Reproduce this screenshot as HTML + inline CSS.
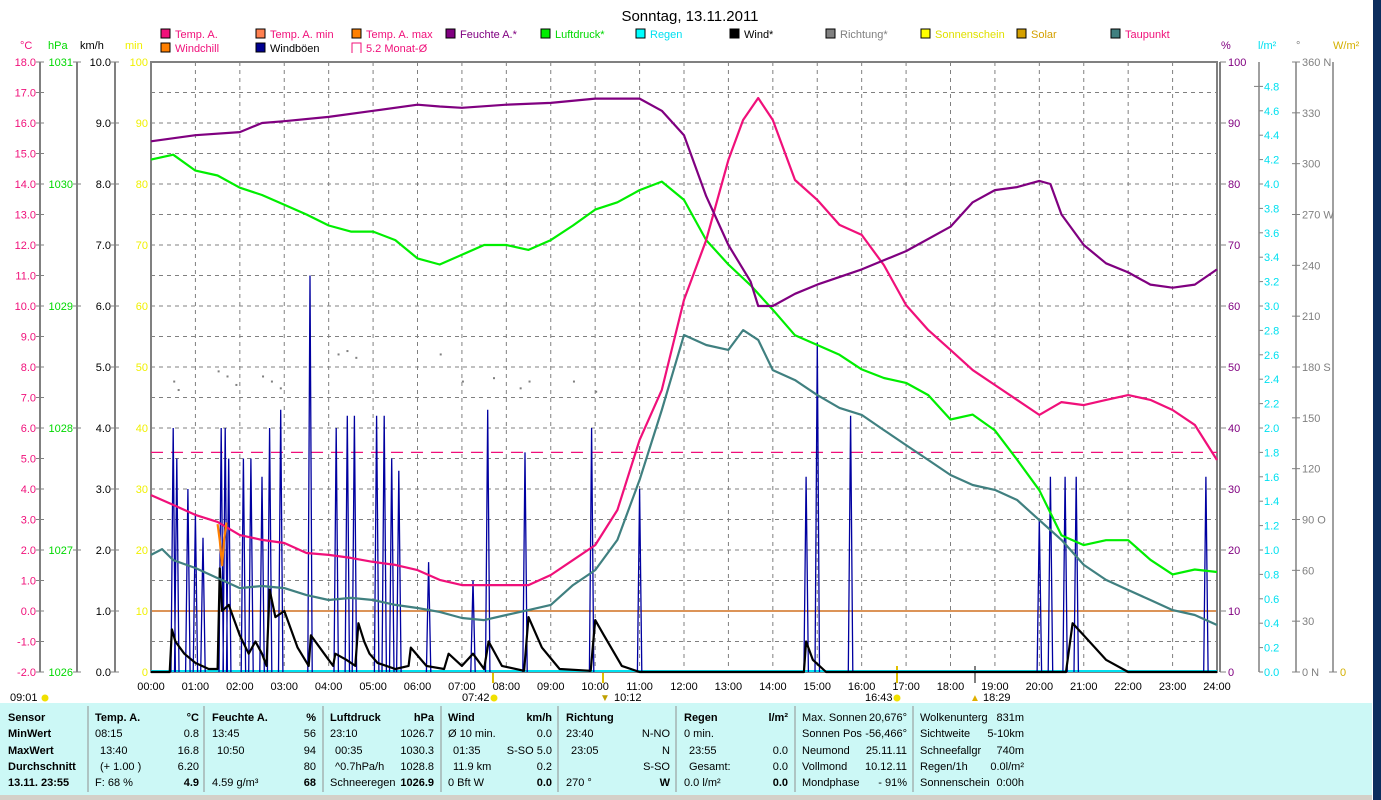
<!DOCTYPE html>
<html><head><meta charset="utf-8"><style>
html,body{margin:0;padding:0;background:#fff;}
svg{display:block;font-family:"Liberation Sans",sans-serif;}
</style></head><body>
<svg id="c" width="1381" height="800" viewBox="0 0 1381 800" xmlns="http://www.w3.org/2000/svg">
<rect x="0" y="0" width="1381" height="800" fill="#fff"/>
<rect x="1373" y="0" width="8" height="800" fill="#0c2d5e"/>
<text x="690" y="21" font-size="15" text-anchor="middle">Sonntag, 13.11.2011</text>
<g id="legend" font-size="11"></g>
<g id="grid"></g>
<g id="axes" font-size="11"></g>
<g id="series" fill="none"></g>
<g id="table" font-size="11"></g>
</svg>
<script>
// ---- data ----
const hours=[0,1,2,3,4,5,6,7,8,9,10,11,12,13,14,15,16,17,18,19,20,21,22,23,24];
const humT=[0,1,2,2.5,3,4,5,6,6.5,7,8,9,10,11,11.5,12,12.5,13,13.5,13.67,14,14.5,15,16,17,18,18.5,19,19.5,20,20.25,20.5,21,21.5,22,22.5,23,23.5,24];
const humV=[87,88,88.5,90,90.3,91,92,93,92.7,92.5,93,93.3,94,94,92,88,78,70,64,60,60,62,63.5,66,69,73,77,79,79.5,80.5,80,75,70,67,65.5,63.5,63,63.5,66];
const presT=[0,0.5,1,1.5,2,2.5,3,3.5,4,4.5,5,5.5,6,6.5,7,7.5,8,8.5,9,9.5,10,10.5,11,11.5,12,12.5,13,13.5,14,14.5,15,15.5,16,16.5,17,17.5,18,18.5,19,19.5,20,20.5,21,21.5,22,22.5,23,23.5,24];
const presV=[1030.20,1030.24,1030.11,1030.07,1029.97,1029.91,1029.83,1029.75,1029.66,1029.61,1029.61,1029.54,1029.39,1029.34,1029.42,1029.50,1029.50,1029.46,1029.54,1029.66,1029.79,1029.85,1029.95,1030.02,1029.87,1029.54,1029.34,1029.17,1028.97,1028.76,1028.68,1028.60,1028.48,1028.41,1028.37,1028.27,1028.07,1028.11,1027.98,1027.74,1027.49,1027.12,1027.04,1027.08,1027.08,1026.92,1026.80,1026.84,1026.82];
const tempT=[0,0.5,1,1.5,2,2.5,3,3.5,4,4.5,5,5.5,6,6.5,7,7.5,8,8.5,9,9.5,10,10.5,11,11.5,12,12.5,13,13.33,13.67,14,14.5,15,15.5,16,16.5,17,17.5,18,18.5,19,19.5,20,20.5,21,21.5,22,22.5,23,23.5,24];
const tempV=[3.80,3.48,3.15,2.92,2.49,2.33,2.23,1.90,1.84,1.74,1.61,1.51,1.34,1.02,0.85,0.85,0.85,0.85,1.18,1.67,2.16,3.31,5.61,7.25,10.20,12.16,14.79,16.10,16.82,16.10,14.13,13.48,12.66,12.33,11.34,10.03,9.21,8.56,7.90,7.41,6.92,6.43,6.85,6.75,6.92,7.08,6.92,6.59,6.10,4.95];
const dewT=[0,0.25,0.5,1,1.5,2,2.5,3,3.5,4,4.5,5,5.5,6,6.5,7,7.5,8,8.5,9,9.5,10,10.5,11,11.5,12,12.5,13,13.33,13.67,14,14.5,15,15.5,16,16.5,17,17.5,18,18.5,19,19.5,20,20.5,21,21.5,22,22.5,23,23.5,24];
const dewV=[1.84,2.03,1.67,1.41,1.08,0.75,0.82,0.75,0.52,0.36,0.43,0.36,0.20,0.10,-0.03,-0.23,-0.30,-0.13,0.03,0.20,0.85,1.34,2.33,4.30,6.59,9.05,8.72,8.56,9.21,8.89,7.90,7.57,7.08,6.66,6.43,5.93,5.44,4.95,4.46,4.13,3.97,3.64,2.98,2.33,1.51,1.02,0.69,0.36,0.03,-0.13,-0.46];
const windT=[0,0.42,0.47,0.55,0.75,1.0,1.3,1.5,1.55,1.6,1.75,2.0,2.2,2.35,2.5,2.6,2.67,2.8,3.0,3.3,3.55,3.6,3.9,4.1,4.15,4.4,4.6,4.67,4.8,4.92,5.1,5.3,5.5,5.8,5.85,6.2,6.6,6.7,7.0,7.25,7.5,7.6,7.9,8.4,8.5,8.8,9.2,9.9,10.0,10.2,10.6,11,14.7,14.75,14.9,15.2,20.6,20.75,21.0,21.5,22,24];
const windV=[0,0,0.7,0.5,0.3,0.15,0.05,0.05,1.7,1.0,1.1,0.6,0.3,0.5,0.3,0.1,1.35,0.9,1.0,0.4,0.1,0.6,0.3,0.1,0.3,0.2,0.1,0.8,0.5,0.3,0.15,0.1,0.05,0.1,0.4,0.1,0.05,0.3,0.1,0.3,0.05,0.5,0.1,0.02,0.9,0.4,0.05,0.02,0.85,0.6,0.1,0,0,0.5,0.2,0,0,0.8,0.6,0.2,0,0];
const gustT=[0.5,0.58,0.83,1.0,1.17,1.58,1.67,1.75,2.08,2.25,2.5,2.67,2.92,3.58,4.17,4.42,4.58,5.08,5.25,5.42,5.58,6.25,7.25,7.58,8.42,9.92,11.0,14.75,15.0,15.75,20.0,20.25,20.58,20.83,23.75];
const gustV=[4.0,3.5,3.0,2.6,2.2,4.0,4.0,3.5,3.5,3.5,3.2,4.0,4.3,6.5,4.0,4.2,4.2,4.2,4.2,3.5,3.3,1.8,1.5,4.3,3.6,4.0,3.0,3.2,5.4,4.2,2.5,3.2,3.2,3.2,3.2];
const chillT=[1.5,1.55,1.6,1.65,1.7];
const chillV=[2.85,2.3,1.5,2.4,2.9];
const dirT=[0.5,0.6,1.5,1.7,1.9,2.5,2.7,2.9,4.2,4.4,4.6,6.5,7.0,7.7,8.3,8.5,9.5,10.0];
const dirV=[172,167,178,175,170,175,172,168,188,190,186,188,172,174,168,172,172,166];
const monthAvg=5.2;
const tempTicks=[-2,-1,0,1,2,3,4,5,6,7,8,9,10,11,12,13,14,15,16,17,18];
const hpaTicks=[1026,1027,1028,1029,1030,1031];
const kmhTicks=[0,1,2,3,4,5,6,7,8,9,10];
const pctTicks=[0,10,20,30,40,50,60,70,80,90,100];
const rainTicks=[0,0.2,0.4,0.6,0.8,1.0,1.2,1.4,1.6,1.8,2.0,2.2,2.4,2.6,2.8,3.0,3.2,3.4,3.6,3.8,4.0,4.2,4.4,4.6,4.8];
const degTicks=[0,30,60,90,120,150,180,210,240,270,300,330,360];
const degNames={0:"N",90:"O",180:"S",270:"W",360:"N"};

// ---- scales ----
const L=151,R=1217,T=62,B=672;
const X=t=>L+t*(R-L)/24;
const YP=v=>B-v*(B-T)/100;
const YC=v=>B-(v+2)*(B-T)/20;
const YH=v=>B-(v-1026)*(B-T)/5;
const YK=v=>B-v*(B-T)/10;
const YR=v=>B-v*(B-T)/5;
const YD=v=>B-v*(B-T)/360;
const NS="http://www.w3.org/2000/svg";
function mk(tag,attrs,parent,txt){const e=document.createElementNS(NS,tag);for(const k in attrs)e.setAttribute(k,attrs[k]);if(txt!==undefined)e.textContent=txt;parent.appendChild(e);return e;}
const G=document.getElementById('grid'),A=document.getElementById('axes'),S=document.getElementById('series'),LG=document.getElementById('legend'),TB=document.getElementById('table');

// grid
for(const h of hours){ if(h>0&&h<24){const l=mk('line',{x1:X(h),x2:X(h),y1:T,y2:B,stroke:'#808080','stroke-dasharray':'4,4'},G);

}
 const t=mk('text',{x:X(h),y:B+18,'text-anchor':'middle'},A,(h<10?'0':'')+h+':00');
 
 }
for(const v of tempTicks){ if(v>-2&&v<18){const l=mk('line',{x1:L,x2:R,y1:YC(v),y2:YC(v),stroke:'#808080','stroke-dasharray':'4,4'},G);
 
 }}
mk('line',{x1:L,x2:R,y1:YC(0),y2:YC(0),stroke:'#d07020','stroke-width':1.5},G);
mk('rect',{x:L,y:T,width:R-L,height:B-T,fill:'none',stroke:'#808080','stroke-width':2},G);
mk('line',{x1:R+3,x2:R+3,y1:T,y2:B,stroke:'#808080','stroke-width':2},G);

function axis(x,ticks,yf,fmt,color,labelX,anchor){
 mk('line',{x1:x,x2:x,y1:T,y2:B,stroke:'#808080','stroke-width':2},A);
 for(const v of ticks){const y=yf(v);
  mk('line',{x1:x-4,x2:x+4,y1:y,y2:y,stroke:'#808080'},A);
  const t=mk('text',{x:labelX,y:y+4,'text-anchor':anchor,fill:color},A,fmt(v));
  
  }
}
axis(40,tempTicks,YC,v=>v.toFixed(1),'#f0107a',36,'end');
axis(77,hpaTicks,YH,v=>String(v),'#00d800',73,'end');
axis(115,kmhTicks,YK,v=>v.toFixed(1),'#000',111,'end');
for(const v of pctTicks){const t=mk('text',{x:148,y:YP(v)+4,'text-anchor':'end',fill:'#f0f000'},A,String(v));
 
 }
for(const v of pctTicks){mk('line',{x1:R+3,x2:R+9,y1:YP(v),y2:YP(v),stroke:'#808080'},A);
 const t=mk('text',{x:R+11,y:YP(v)+4,fill:'#800080'},A,String(v));
 
 }
mk('line',{x1:1259,x2:1259,y1:T,y2:B,stroke:'#808080','stroke-width':1.5},A);
for(const v of rainTicks){mk('line',{x1:v===4.8?1254:1259,x2:1263,y1:YR(v),y2:YR(v),stroke:'#808080'},A);
 const t=mk('text',{x:1264,y:YR(v)+4,fill:'#00e0f0'},A,v.toFixed(1));
 
 }
mk('line',{x1:1296,x2:1296,y1:T,y2:B,stroke:'#808080','stroke-width':1.5},A);
for(const v of degTicks){mk('line',{x1:1292,x2:1300,y1:YD(v),y2:YD(v),stroke:'#808080'},A);
 const t=mk('text',{x:1302,y:YD(v)+4,fill:'#808080'},A,String(v)+(degNames[v]!==undefined?(v===0?'   ':' ')+degNames[v]:''));
 
 }
mk('line',{x1:1333,x2:1333,y1:T,y2:B,stroke:'#808080','stroke-width':1.5},A);
mk('line',{x1:1329,x2:1337,y1:B,y2:B,stroke:'#808080'},A);
mk('text',{x:1340,y:B+4,fill:'#d4b000'},A,'0');
const units=[[20,'°C','#f0107a'],[48,'hPa','#00d800'],[80,'km/h','#000'],[125,'min','#f0f000'],[1221,'%','#800080'],[1258,'l/m²','#00e0f0'],[1296,'°','#808080'],[1333,'W/m²','#d4b000']];
for(const u of units){const t=mk('text',{x:u[0],y:49,fill:u[2]},A,u[1]);
 
 }

function line(ts,vs,yf,color,w,name){let d='';ts.forEach((t,i)=>{d+=(i?'L':'M')+X(t).toFixed(1)+','+yf(vs[i]).toFixed(1);});
 const p=mk('path',{d:d,stroke:color,'stroke-width':w,'stroke-linejoin':'round'},S);
 
 return p;}
mk('line',{x1:L,x2:R,y1:B-1,y2:B-1,stroke:'#00e0f0','stroke-width':2},S);
const av=mk('line',{x1:L,x2:R,y1:YC(monthAvg),y2:YC(monthAvg),stroke:'#f0107a','stroke-dasharray':'12,8','stroke-width':1.2},S);


let gd='';gustT.forEach((t,i)=>{gd+='M'+X(t-0.05).toFixed(1)+','+B+'L'+X(t).toFixed(1)+','+YK(gustV[i]).toFixed(1)+'L'+X(t+0.05).toFixed(1)+','+B;});
const gp=mk('path',{d:gd,stroke:'#0000a0','stroke-width':1.3},S);


line(windT,windV,YK,'#000',2.2,'wind-series');
line(dewT,dewV,YC,'#408080',2.2,'dewpoint-series');
line(presT,presV,YH,'#00ee00',2.2,'pressure-series');
line(tempT,tempV,YC,'#f0107a',2.2,'temperature-series');
line(chillT,chillV,YC,'#ff8000',2.2,'windchill-series');
line(humT,humV,YP,'#800080',2.2,'humidity-series');
dirT.forEach((t,i)=>{const c=mk('rect',{x:X(t),y:YD(dirV[i]),width:2,height:2,fill:'#808080'},S);
 
 });

const leg=[[161,38,'#f0107a','Temp. A.','#f0107a'],[256,38,'#ff8050','Temp. A. min','#f0107a'],[352,38,'#ff8000','Temp. A. max','#f0107a'],[446,38,'#800080','Feuchte A.*','#800080'],[541,38,'#00ee00','Luftdruck*','#00d800'],[636,38,'#00ffff','Regen','#00e0f0'],[730,38,'#000','Wind*','#000'],[826,38,'#808080','Richtung*','#808080'],[921,38,'#ffff00','Sonnenschein','#e0e000'],[1017,38,'#d4a000','Solar','#d4a000'],[1111,38,'#408080','Taupunkt','#f0107a'],[161,52,'#ff8000','Windchill','#f0107a'],[256,52,'#000090','Windböen','#000']];
for(const e of leg){const g=mk('g',{},LG);
 
 
 mk('rect',{x:e[0],y:e[1]-9,width:9,height:9,fill:e[2],stroke:'#000'},g);
 mk('text',{x:e[0]+14,y:e[1],fill:e[4]},g,e[3]);}
{const g=mk('g',{},LG);
 mk('path',{d:'M352,53V43H361V53',fill:'none',stroke:'#f0107a'},g);mk('text',{x:366,y:52,fill:'#f0107a'},g,'5.2 Monat-Ø');}

const sm=[[10,'09:01',45],[462,'07:42',494],[614,'10:12',null],[865,'16:43',897],[983,'18:29',null]];
for(const s of sm){const t=mk('text',{x:s[0],y:701},A,s[1]);
 if(s[2])mk('circle',{cx:s[2],cy:698,r:3.5,fill:'#f0e000'},A);}
mk('line',{x1:493,x2:493,y1:673,y2:683,stroke:'#e0c000','stroke-width':2},A);
mk('line',{x1:603,x2:603,y1:673,y2:683,stroke:'#e0c000','stroke-width':2},A);
mk('line',{x1:897,x2:897,y1:666,y2:683,stroke:'#e0c000','stroke-width':2},A);
mk('line',{x1:975,x2:975,y1:666,y2:683,stroke:'#808080','stroke-width':2},A);
mk('text',{x:600,y:701,fill:'#c0a000','font-size':10},A,'▼');
mk('text',{x:970,y:701,fill:'#e0b000','font-size':10},A,'▲');

mk('rect',{x:0,y:703,width:1372,height:92,fill:'#ccf8f6'},TB);
mk('rect',{x:0,y:795,width:1372,height:5,fill:'#d4d0c8'},TB);
for(const x of [88,204,323,441,558,676,795,913]) mk('line',{x1:x,x2:x,y1:706,y2:792,stroke:'#909090'},TB);
const rows=[717,733,750,766,782];
const col0=['Sensor','MinWert','MaxWert','Durchschnitt','13.11. 23:55'];
col0.forEach((s,i)=>mk('text',{x:8,y:rows[i]+4,'font-weight':'bold'},TB,s));
const cols=[
 [95,199,['Temp. A.','°C'],[['08:15','0.8'],['13:40','16.8'],['(+ 1.00 )','6.20'],['F: 68 %','4.9']]],
 [212,316,['Feuchte A.','%'],[['13:45','56'],['10:50','94'],['','80'],['4.59 g/m³','68']]],
 [330,434,['Luftdruck','hPa'],[['23:10','1026.7'],['00:35','1030.3'],['^0.7hPa/h','1028.8'],['Schneeregen','1026.9']]],
 [448,552,['Wind','km/h'],[['Ø 10 min.','0.0'],['01:35','S-SO 5.0'],['11.9 km','0.2'],['0 Bft W','0.0']]],
 [566,670,['Richtung',''],[['23:40','N-NO'],['23:05','N'],['','S-SO'],['270 °','W']]],
 [684,788,['Regen','l/m²'],[['0 min.',''],['23:55','0.0'],['Gesamt:','0.0'],['0.0 l/m²','0.0']]]];
for(const c of cols){
 mk('text',{x:c[0],y:rows[0]+4,'font-weight':'bold'},TB,c[2][0]);
 mk('text',{x:c[1],y:rows[0]+4,'font-weight':'bold','text-anchor':'end'},TB,c[2][1]);
 c[3].forEach((r,i)=>{const b=i===3;mk('text',{x:c[0]+(i>0&&i<3?5:0),y:rows[i+1]+4},TB,r[0]);
  mk('text',{x:c[1],y:rows[i+1]+4,'text-anchor':'end','font-weight':b?'bold':'normal'},TB,r[1]);});}
const c7=[['Max. Sonnen','20,676°'],['Sonnen Pos','-56,466°'],['Neumond','25.11.11'],['Vollmond','10.12.11'],['Mondphase','- 91%']];
c7.forEach((r,i)=>{mk('text',{x:802,y:rows[i]+4},TB,r[0]);mk('text',{x:907,y:rows[i]+4,'text-anchor':'end'},TB,r[1]);});
const c8=[['Wolkenunterg','831m'],['Sichtweite','5-10km'],['Schneefallgr','740m'],['Regen/1h','0.0l/m²'],['Sonnenschein','0:00h']];
c8.forEach((r,i)=>{mk('text',{x:920,y:rows[i]+4},TB,r[0]);mk('text',{x:1024,y:rows[i]+4,'text-anchor':'end'},TB,r[1]);});
</script>
</body></html>
